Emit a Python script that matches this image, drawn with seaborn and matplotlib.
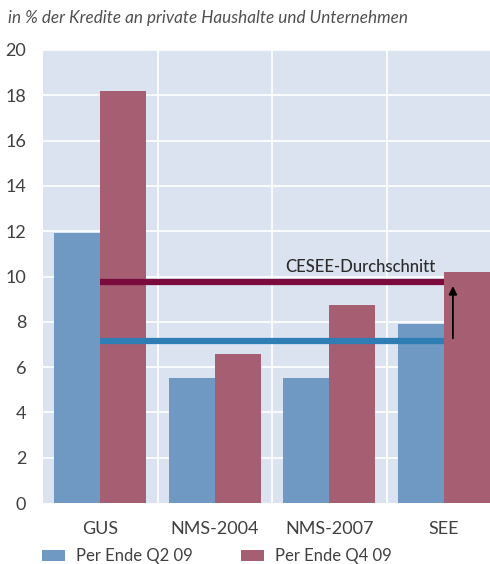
import matplotlib
matplotlib.use("Agg")
import matplotlib.pyplot as plt
import seaborn as sns
import pandas as pd

categories = ["GUS", "NMS-2004", "NMS-2007", "SEE"]
q2_values = [11.9, 5.5, 5.5, 7.9]
q4_values = [18.2, 6.6, 8.75, 10.2]
series_names = ["Per Ende Q2 09", "Per Ende Q4 09"]
cesee_q2 = 7.15
cesee_q4 = 9.75

df = pd.DataFrame({
    "cat": categories * 2,
    "value": q2_values + q4_values,
    "series": [series_names[0]] * 4 + [series_names[1]] * 4,
})

sns.set_style("white")
plt.rcParams["font.family"] = ["Lato", "DejaVu Sans"]

fig = plt.figure(figsize=(4.9, 5.64), dpi=100)
ax = fig.add_axes([43 / 490, 61 / 564, 458 / 490, 453 / 564])
ax.set_facecolor("#dae3ef")

sns.barplot(data=df, x="cat", y="value", hue="series", ax=ax,
            palette=["#6f99c3", "#a65f72"], width=0.8, saturation=1,
            linewidth=0, zorder=3)

ax.set_ylim(0, 20)
ax.set_xlim(-0.5, 3.5)
ax.set_yticks(range(0, 21, 2))
for y in range(2, 21, 2):
    ax.axhline(y, color="white", lw=1.2, zorder=1)
for x in [0.5, 1.5, 2.5]:
    ax.axvline(x, color="white", lw=1.2, zorder=1)

# CESEE average lines: from GUS centre to SEE centre, under the red SEE bar
ax.plot([0, 3], [cesee_q4, cesee_q4], color="#7b0b3c", lw=4.5,
        zorder=4, solid_capstyle="butt")
ax.plot([0, 3], [cesee_q2, cesee_q2], color="#2e7db5", lw=4.5,
        zorder=4, solid_capstyle="butt")
ax.patches[7].set_zorder(5)
ax.annotate("", xy=(3.08, cesee_q4 - 0.05), xytext=(3.08, cesee_q2),
            arrowprops=dict(arrowstyle="-|>", color="black", lw=1.3,
                            mutation_scale=12), zorder=6)
ax.text(2.27, cesee_q4 + 0.3, "CESEE-Durchschnitt", ha="center",
        va="bottom", fontsize=12, color="#2b2b2b", fontweight="medium",
        zorder=6)

for s in ax.spines.values():
    s.set_visible(False)
ax.tick_params(axis="both", length=0, labelsize=13, colors="#404040")
ax.tick_params(axis="y", pad=12)
ax.tick_params(axis="x", pad=13)
ax.set_xlabel("")
ax.set_ylabel("")

handles, labels = ax.get_legend_handles_labels()
ax.get_legend().remove()
fig.legend(handles, labels, loc="center left",
           bbox_to_anchor=(42 / 490, 8 / 564), borderaxespad=0, borderpad=0,
           ncol=2, frameon=False, fontsize=12, handlelength=1.35,
           handleheight=0.65, handletextpad=0.7, columnspacing=2.9,
           labelcolor="#404040")

fig.text(8 / 490, 1 - 18 / 564, "in % der Kredite an private Haushalte und Unternehmen",
         fontsize=12.3, style="italic", color="#505050", va="center")

fig.savefig("out.png", dpi=100)
